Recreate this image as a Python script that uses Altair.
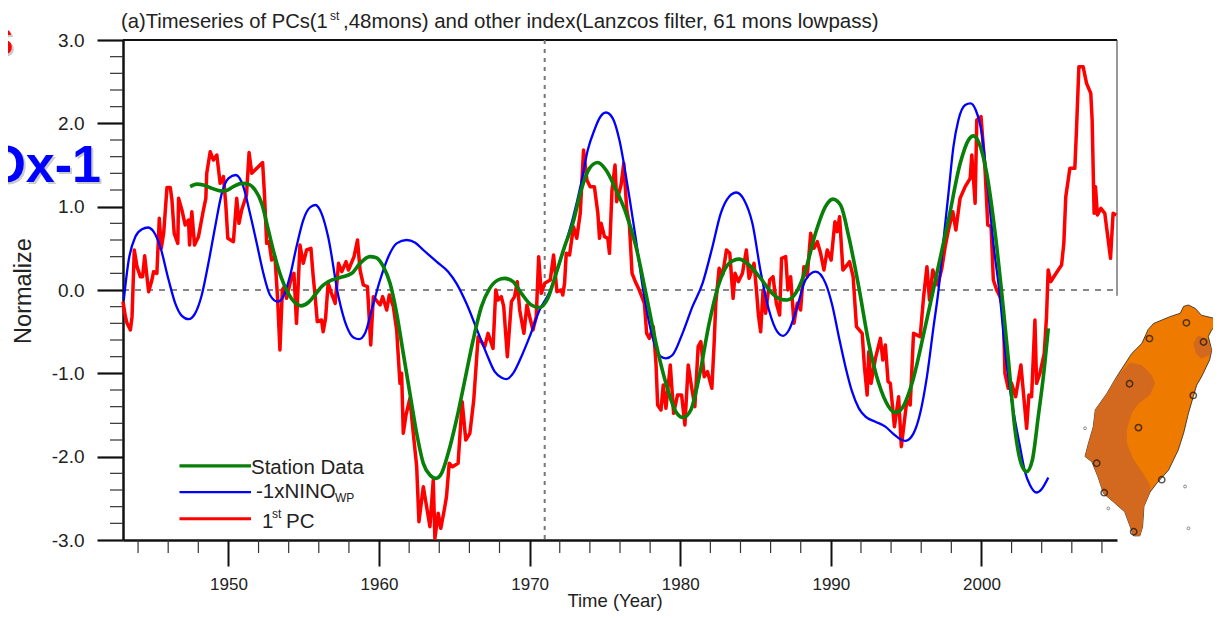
import altair as alt

FONT = "Liberation Sans"

red_year = [1943.0,1943.16,1943.27,1943.49,1943.6,1943.75,1943.93,1944.15,1944.3,1944.44,1944.59,1944.7,1944.92,1945.03,1945.25,1945.41,1945.54,1945.7,1945.92,1946.14,1946.25,1946.4,1946.64,1946.69,1946.91,1947.13,1947.35,1947.42,1947.57,1947.75,1948.01,1948.34,1948.5,1948.56,1948.79,1949.0,1949.23,1949.45,1949.67,1949.82,1949.96,1950.33,1950.55,1950.7,1950.88,1951.2,1951.37,1951.55,1951.77,1952.27,1952.39,1952.54,1952.7,1952.87,1953.09,1953.27,1953.42,1953.58,1953.71,1953.86,1954.19,1954.35,1954.52,1954.75,1954.97,1955.19,1955.48,1955.63,1955.74,1955.9,1956.18,1956.29,1956.45,1956.62,1956.84,1957.09,1957.31,1957.53,1957.81,1957.97,1958.34,1958.57,1958.74,1958.96,1959.23,1959.45,1959.62,1960.07,1960.24,1960.51,1960.68,1960.95,1961.17,1961.39,1961.5,1961.61,1961.79,1962.05,1962.23,1962.5,1962.65,1962.94,1963.16,1963.38,1963.6,1963.71,1963.93,1964.1,1964.33,1964.48,1964.66,1964.88,1965.25,1965.52,1965.76,1966.03,1966.29,1966.58,1967.02,1967.24,1967.57,1967.75,1967.9,1968.12,1968.28,1968.52,1968.79,1969.0,1969.18,1969.34,1969.62,1969.82,1970.0,1970.22,1970.44,1970.6,1970.77,1971.0,1971.37,1971.59,1971.81,1972.1,1972.2,1972.32,1972.43,1972.65,1972.91,1973.13,1973.36,1973.58,1973.8,1974.02,1974.3,1974.53,1974.64,1974.75,1974.97,1975.19,1975.3,1975.47,1975.67,1975.78,1976.07,1976.25,1976.45,1976.62,1976.8,1977.02,1977.28,1977.62,1977.77,1977.95,1978.21,1978.39,1978.5,1978.72,1978.87,1979.05,1979.34,1979.56,1979.82,1980.09,1980.31,1980.53,1980.75,1980.97,1981.19,1981.37,1981.59,1981.81,1982.1,1982.25,1982.36,1982.58,1982.81,1983.07,1983.29,1983.51,1983.64,1983.86,1984.13,1984.39,1984.57,1984.9,1985.06,1985.19,1985.34,1985.5,1985.67,1985.94,1986.16,1986.38,1986.6,1986.73,1987.0,1987.15,1987.33,1987.55,1987.77,1987.99,1988.21,1988.43,1988.66,1988.88,1989.1,1989.32,1989.54,1989.76,1990.02,1990.27,1990.42,1990.58,1990.8,1991.08,1991.24,1991.48,1991.7,1992.08,1992.23,1992.41,1992.52,1992.67,1992.96,1993.29,1993.45,1993.62,1993.8,1993.95,1994.22,1994.5,1994.68,1995.05,1995.27,1995.49,1995.93,1996.16,1996.38,1996.55,1996.77,1997.1,1997.37,1997.59,1997.81,1998.1,1998.3,1998.58,1998.92,1999.25,1999.36,1999.58,1999.69,1999.97,2000.24,2000.42,2000.64,2000.79,2001.01,2001.23,2001.45,2001.56,2001.78,2002.0,2002.27,2002.62,2002.84,2003.0,2003.15,2003.33,2003.55,2003.66,2003.88,2004.17,2004.32,2004.43,2004.61,2004.88,2005.32,2005.47,2005.6,2005.87,2006.2,2006.31,2006.47,2006.75,2006.98,2007.26,2007.35,2007.48,2007.57,2007.7,2007.93,2008.19,2008.57,2008.74,2008.96]
red_val = [-.14,-.32,-.40,-.48,-.32,.48,.28,.16,.16,.41,.16,-.02,.12,.22,.2,.86,.5,.68,1.23,1.23,1.08,.68,.56,1.10,.96,.78,.84,.54,.94,.54,.64,.96,1.10,1.40,1.66,1.56,1.62,1.28,1.36,1.04,.62,.58,1.10,.80,.96,1.14,1.65,1.40,1.44,1.53,1.16,.56,.58,.36,.4,-.12,-.72,0,.04,-.1,.16,.2,-.4,.54,.32,.48,.5,.16,-.04,-.38,-.36,-.5,-.34,.08,-.04,-.16,.32,.22,.34,.24,.4,.6,.24,.06,.04,-.66,-.08,-.18,-.08,-.24,-.06,-.2,-.48,-1.12,-1.0,-1.72,-1.5,-1.3,-1.64,-2.12,-2.78,-2.36,-2.6,-2.84,-2.28,-2.98,-2.68,-2.86,-2.64,-2.48,-2.08,-2.12,-2.08,-1.34,-1.8,-1.72,-1.32,-.56,-.68,-.52,-.7,0,-.12,-.08,-.2,-.8,-.14,-.08,.1,-.24,-.52,-.18,-.32,-.48,-.32,.4,-.04,.08,.12,.42,-.02,0,-.06,.08,.44,.42,.76,.62,.92,1.68,1.32,1.24,1.24,.92,.62,.8,.64,.62,.44,1.2,1.5,1.06,1.26,1.52,.96,.8,.2,.1,0,-.16,-.52,-.58,-.44,-.88,-1.38,-1.44,-1.14,-1.42,-.9,-1.48,-1.26,-1.26,-1.62,-.9,-1.16,-1.4,-.68,-.62,-1.04,-.98,-1.18,-.64,-.16,.26,.18,.48,.44,-.1,.2,.1,.2,.48,.14,.32,0,-.3,-.5,0,-.28,.12,.16,-.16,-.3,.38,.4,0,.16,-.4,-.16,-.24,.28,.16,.68,.5,.58,.44,.24,.48,.36,.82,.7,.88,.24,.3,.34,.16,-.44,-.52,-.92,-1.26,-.74,-1.12,-.82,-.58,-.84,-.66,-1.1,-1.12,-1.64,-1.28,-1.88,-1.32,-1.38,-.52,-.56,-.08,.28,-.12,.24,.06,.26,.52,.72,.94,.72,1.1,1.24,1.34,1.62,1.04,2.04,2.08,1.44,.78,.76,.12,0,-.08,-.24,-1.0,-1.18,-1.12,-1.28,-.9,-1.34,-1.66,-1.26,-1.28,-.36,-1.12,-1.0,-.76,-.32,.24,.1,.18,.3,.56,1.12,1.46,1.46,1.92,2.68,2.68,2.48,2.36,2.04,.92,1.24,.9,.98,.92,.38,.92,.9]

blue_year = [1943.05,1943.38,1943.82,1944.26,1944.66,1945.03,1945.47,1946.03,1946.47,1946.91,1947.35,1947.79,1948.23,1948.67,1949.12,1949.56,1950.0,1950.49,1950.99,1951.43,1951.88,1952.32,1952.76,1953.27,1953.64,1954.08,1954.52,1954.97,1955.41,1955.78,1956.18,1956.62,1957.31,1957.86,1958.3,1958.68,1959.07,1959.51,1960.07,1960.62,1961.17,1961.83,1962.38,1962.94,1963.82,1964.59,1965.14,1965.8,1966.47,1967.13,1967.68,1968.12,1968.46,1968.9,1969.45,1970.0,1970.66,1971.33,1971.77,1972.32,1972.87,1973.42,1973.86,1974.3,1974.63,1975.07,1975.52,1975.96,1976.51,1977.06,1977.61,1978.28,1978.72,1979.05,1979.49,1980.15,1980.81,1981.48,1982.14,1982.69,1983.24,1983.73,1984.24,1984.79,1985.34,1985.89,1986.44,1986.82,1987.22,1987.77,1988.32,1988.99,1989.65,1990.09,1990.53,1990.97,1991.41,1991.86,1992.3,1992.96,1993.62,1994.17,1994.62,1994.95,1995.49,1995.93,1996.38,1996.82,1997.15,1997.48,1997.81,1998.14,1998.47,1998.92,1999.27,1999.62,2000.02,2000.46,2000.79,2001.23,2001.56,2002.0,2002.56,2002.89,2003.22,2003.66,2003.99,2004.44]
blue_val = [-.12,.36,.64,.73,.75,.7,.52,.12,-.16,-.31,-.35,-.28,-.06,.32,.76,1.16,1.34,1.38,1.24,.92,.56,.2,-.06,-.14,-.08,.16,.52,.84,.99,1.02,.92,.64,-.08,-.44,-.57,-.59,-.52,-.24,.12,.4,.56,.6,.57,.48,.34,.22,.08,-.16,-.46,-.76,-.98,-1.05,-1.07,-1.0,-.8,-.56,-.24,-.02,.2,.52,.86,1.28,1.68,1.92,2.06,2.13,2.06,1.8,1.24,.6,-.08,-.64,-.8,-.82,-.78,-.52,-.2,.08,.52,.92,1.12,1.17,1.08,.8,.22,-.24,-.5,-.55,-.48,-.2,.12,.22,.08,-.18,-.56,-.92,-1.22,-1.42,-1.52,-1.58,-1.64,-1.73,-1.79,-1.81,-1.72,-1.48,-1.04,-.44,0,.6,1.16,1.72,2.04,2.22,2.24,2.16,1.88,1.16,.56,-.08,-.72,-1.32,-1.88,-2.18,-2.34,-2.43,-2.39,-2.25]

green_year = [1947.46,1947.9,1948.34,1948.9,1949.45,1949.78,1950.33,1950.88,1951.32,1951.77,1952.21,1952.65,1953.09,1953.53,1953.97,1954.41,1954.81,1955.3,1955.74,1956.18,1956.62,1957.42,1958.19,1958.74,1959.4,1959.78,1960.29,1960.73,1961.17,1961.61,1962.05,1962.5,1962.94,1963.38,1963.78,1964.15,1964.59,1965.14,1965.7,1966.25,1966.8,1967.35,1967.9,1968.34,1968.9,1969.45,1970.11,1970.66,1971.21,1971.76,1972.32,1972.87,1973.42,1973.97,1974.52,1975.07,1975.74,1976.4,1977.06,1977.72,1978.39,1979.05,1979.71,1980.2,1980.7,1981.26,1981.92,1982.58,1983.24,1983.9,1984.57,1985.34,1986.11,1986.66,1987.1,1987.66,1988.32,1988.98,1989.64,1990.13,1990.64,1991.19,1991.85,1992.52,1993.18,1993.84,1994.28,1994.72,1995.39,1996.27,1997.04,1997.81,1998.59,1999.14,1999.47,1999.8,2000.35,2000.91,2001.35,2001.79,2002.23,2002.63,2003.0,2003.38,2003.77,2004.11,2004.44]
green_val = [1.24,1.27,1.26,1.22,1.19,1.19,1.24,1.28,1.27,1.2,1.04,.72,.4,.14,-.04,-.15,-.19,-.15,-.06,.04,.1,.15,.2,.32,.4,.39,.28,.08,-.28,-.76,-1.24,-1.72,-2.08,-2.22,-2.26,-2.2,-1.96,-1.56,-1.08,-.6,-.2,.02,.12,.14,.1,-.04,-.18,-.21,-.1,.2,.52,.8,1.2,1.46,1.53,1.44,1.2,.92,.52,-.04,-.64,-1.12,-1.46,-1.53,-1.44,-1.04,-.4,.08,.32,.37,.3,.14,-.04,-.11,-.12,-.04,.24,.68,1.0,1.09,1.02,.64,.04,-.64,-1.12,-1.4,-1.47,-1.42,-1.12,-.44,.2,.84,1.52,1.8,1.85,1.78,1.4,.68,-.04,-.84,-1.68,-2.08,-2.18,-2.04,-1.52,-1.04,-.46]

x_major = [1950, 1960, 1970, 1980, 1990, 2000]
x_minor = [1944,1946,1948,1952,1954,1956,1958,1962,1964,1966,1968,1972,1974,1976,1978,1982,1984,1986,1988,1992,1994,1996,1998,2002,2004,2006,2008]
y_major = [-3, -2, -1, 0, 1, 2, 3]
y_minor = [-2.8,-2.6,-2.4,-2.2,-1.8,-1.6,-1.4,-1.2,-.8,-.6,-.4,-.2,.2,.4,.6,.8,1.2,1.4,1.6,1.8,2.2,2.4,2.6,2.8]

island_lon = [121.56,121.66,121.75,121.92,122.02,121.90,121.85,121.90,121.87,121.75,121.68,121.63,121.56,121.49,121.41,121.27,121.10,121.00,120.91,120.89,120.85,120.76,120.70,120.63,120.46,120.32,120.24,120.15,120.05,120.10,120.17,120.20,120.37,120.51,120.73,120.88,120.97,121.05,121.29,121.44,121.49]
island_lat = [25.30,25.25,25.15,25.11,25.03,24.94,24.84,24.64,24.50,24.25,24.13,23.96,23.72,23.43,23.18,22.89,22.70,22.57,22.36,22.06,21.93,21.93,22.09,22.28,22.43,22.55,22.79,23.01,23.09,23.28,23.52,23.77,24.01,24.25,24.59,24.74,24.94,25.03,25.13,25.18,25.28]
west_lon = [120.51,120.71,120.88,121.02,121.07,121.00,120.83,120.73,120.66,120.66,120.76,120.90,121.00,121.00,120.91,120.89,120.85,120.76,120.70,120.63,120.46,120.32,120.24,120.15,120.05,120.10,120.17,120.20,120.37]
west_lat = [24.25,24.46,24.42,24.28,24.16,23.99,23.86,23.72,23.48,23.28,23.04,22.84,22.67,22.57,22.36,22.06,21.93,21.93,22.09,22.28,22.43,22.55,22.79,23.01,23.09,23.28,23.52,23.77,24.01]
ne_lon = [121.70,121.83,121.90,121.87,121.75,121.67,121.63]
ne_lat = [24.85,24.81,24.64,24.57,24.52,24.59,24.74]
station_lon = [121.53,120.99,121.78,120.70,121.63,120.83,120.22,121.17,120.33,120.76]
station_lat = [25.04,24.81,24.76,24.15,23.98,23.51,22.99,22.75,22.56,21.99]
speck_lon = [120.05,121.97,120.39,121.51,121.56]
speck_lat = [23.50,24.85,22.33,22.65,22.04]

X0, Y0 = 123, 40  # page position of the plot area


def table(**cols):
    keys = list(cols)
    return alt.Data(values=[dict(zip(keys, row)) for row in zip(*cols.values())])


def polygon(lons, lats):
    ring = [[a, b] for a, b in zip(lons, lats)]
    ring.append(ring[0])
    return alt.Data(values=[{"type": "Feature", "properties": {},
                             "geometry": {"type": "Polygon", "coordinates": [ring]}}])


xs = alt.Scale(domain=[1943, 2009], nice=False, zero=False)
ys = alt.Scale(domain=[-3, 3], nice=False, zero=False)
x_axis = alt.Axis(
    values=x_major, format="d", grid=False, tickSize=26, tickWidth=2, tickColor="#111111",
    domainWidth=2.5, domainColor="#111111", labelFontSize=17, labelFont=FONT,
    labelColor="#222222", labelPadding=10, labelFlush=False, title=None)
y_axis = alt.Axis(
    values=y_major, format=".1f", grid=False, tickSize=26, tickWidth=2.2, tickColor="#111111",
    domainWidth=2.5, domainColor="#111111", labelFontSize=19, labelFont=FONT,
    labelColor="#222222", labelPadding=13, title=None,
    labelExpr="replace(datum.label, '\u2212', '-')")
X = alt.X("year:Q", scale=xs, axis=x_axis)
Y = alt.Y("value:Q", scale=ys, axis=y_axis)


def series(years, vals, color, width, interp):
    return alt.Chart(table(year=years, value=vals)).mark_line(
        color=color, strokeWidth=width, interpolate=interp, strokeJoin="round"
    ).encode(x=X, y=Y, order="year:Q")


def label(txt, px, py, size, color="#222222", align="left", baseline="alphabetic",
          weight="normal", angle=None, opacity=None):
    kw = {}
    if angle is not None:
        kw["angle"] = angle
    if opacity is not None:
        kw["opacity"] = opacity
    return alt.Chart(table(t=[txt])).mark_text(
        font=FONT, fontSize=size, color=color, align=align, baseline=baseline,
        fontWeight=weight, **kw
    ).encode(x=alt.value(px - X0), y=alt.value(py - Y0), text="t:N")


x_minor_ticks = alt.Chart(table(year=x_minor)).mark_rule(color="#333333", strokeWidth=1.2).encode(
    x=X, y=alt.value(500), y2=alt.value(513))
y_minor_ticks = alt.Chart(table(value=y_minor)).mark_rule(color="#333333", strokeWidth=1.2).encode(
    y=Y, x=alt.value(-13), x2=alt.value(0))

top_spine = alt.Chart(table(value=[3])).mark_rule(color="#111111", strokeWidth=2).encode(
    y=Y, x=alt.value(0), x2=alt.value(994))
right_spine = alt.Chart(table(year=[2009], value=[3], low=[-0.07])).mark_rule(
    color="#333333", strokeWidth=1).encode(x=X, y=Y, y2="low:Q")
zero_line = alt.Chart(table(value=[0])).mark_rule(
    color="#111111", strokeWidth=1, strokeDash=[6, 6]).encode(y=Y, x=alt.value(0), x2=alt.value(994))
split_line = alt.Chart(table(year=[1971])).mark_rule(
    color="#777777", strokeWidth=2, strokeDash=[4, 5]).encode(x=X, y=alt.value(0), y2=alt.value(500))

legend_x = [1946.75, 1951.5]
def key(val, color, width):
    return alt.Chart(table(year=legend_x, value=[val, val])).mark_line(
        color=color, strokeWidth=width).encode(x=X, y=Y)

MAP = dict(type="identity", reflectY=True, scale=68.5, translate=[-7261.4, 1998.05])
taiwan = alt.Chart(polygon(island_lon, island_lat)).mark_geoshape(
    fill="#EE7A00", stroke="#222222", strokeWidth=0.8, clip=False).project(**MAP)
west = alt.Chart(polygon(west_lon, west_lat)).mark_geoshape(
    fill="#D2691E", strokeWidth=0, clip=False).project(**MAP)
north_east = alt.Chart(polygon(ne_lon, ne_lat)).mark_geoshape(
    fill="#D2691E", strokeWidth=0, clip=False).project(**MAP)
stations = alt.Chart(table(lon=station_lon, lat=station_lat)).mark_point(
    shape="circle", size=40, filled=False, color="#111111", strokeWidth=1.5, clip=False).encode(
    longitude="lon:Q", latitude="lat:Q").project(**MAP)
specks = alt.Chart(table(lon=speck_lon, lat=speck_lat)).mark_point(
    shape="circle", size=8, filled=False, color="#333333", strokeWidth=0.8, clip=False).encode(
    longitude="lon:Q", latitude="lat:Q").project(**MAP)

chart = alt.layer(
    x_minor_ticks, y_minor_ticks, top_spine, right_spine, zero_line, split_line,
    series(red_year, red_val, "#FF0000", 3.5, "linear"),
    series(blue_year, blue_val, "#0000FF", 2.3, "monotone"),
    series(green_year, green_val, "#087F08", 3.6, "monotone"),
    key(-2.11, "#087F08", 3.4), key(-2.425, "#0000FF", 2.2), key(-2.745, "#FF0000", 3.2),
    label("Station Data", 251, 474, 20.5),
    label("-1xNINO", 256, 498, 20.5),
    label("WP", 335, 502, 12),
    label("1", 262, 528, 20.5),
    label("st", 272, 518, 12),
    label("PC", 286, 528, 20.5),
    label("(a)Timeseries of PCs(1", 121, 28, 20.2),
    label("st", 330, 20, 12),
    label(",48mons) and other index(Lanzcos filter, 61 mons lowpass)", 343, 28, 20.5),
    label("Normalize", 24, 291, 23.5, align="center", baseline="middle", angle=270),
    label("Time (Year)", 615, 607, 18.5, align="center"),
    label("s", 16, 57, 52, color="#999999", align="right", weight="bold", opacity=0.5),
    label("s", 14, 55, 52, color="#FF0000", align="right", weight="bold"),
    label("Ox-1", 103, 184, 52, color="#999999", align="right", weight="bold", opacity=0.5),
    label("Ox-1", 101, 182, 52, color="#0000FF", align="right", weight="bold"),
    taiwan, west, north_east, stations, specks,
).properties(
    width=994, height=500,
    padding={"left": 115, "top": 32, "right": 96, "bottom": 71},
    autosize=alt.AutoSizeParams(type="none"),
    background="white",
).configure_view(stroke=None)

chart.save("out.html", embed_options={"renderer": "svg", "actions": False})
